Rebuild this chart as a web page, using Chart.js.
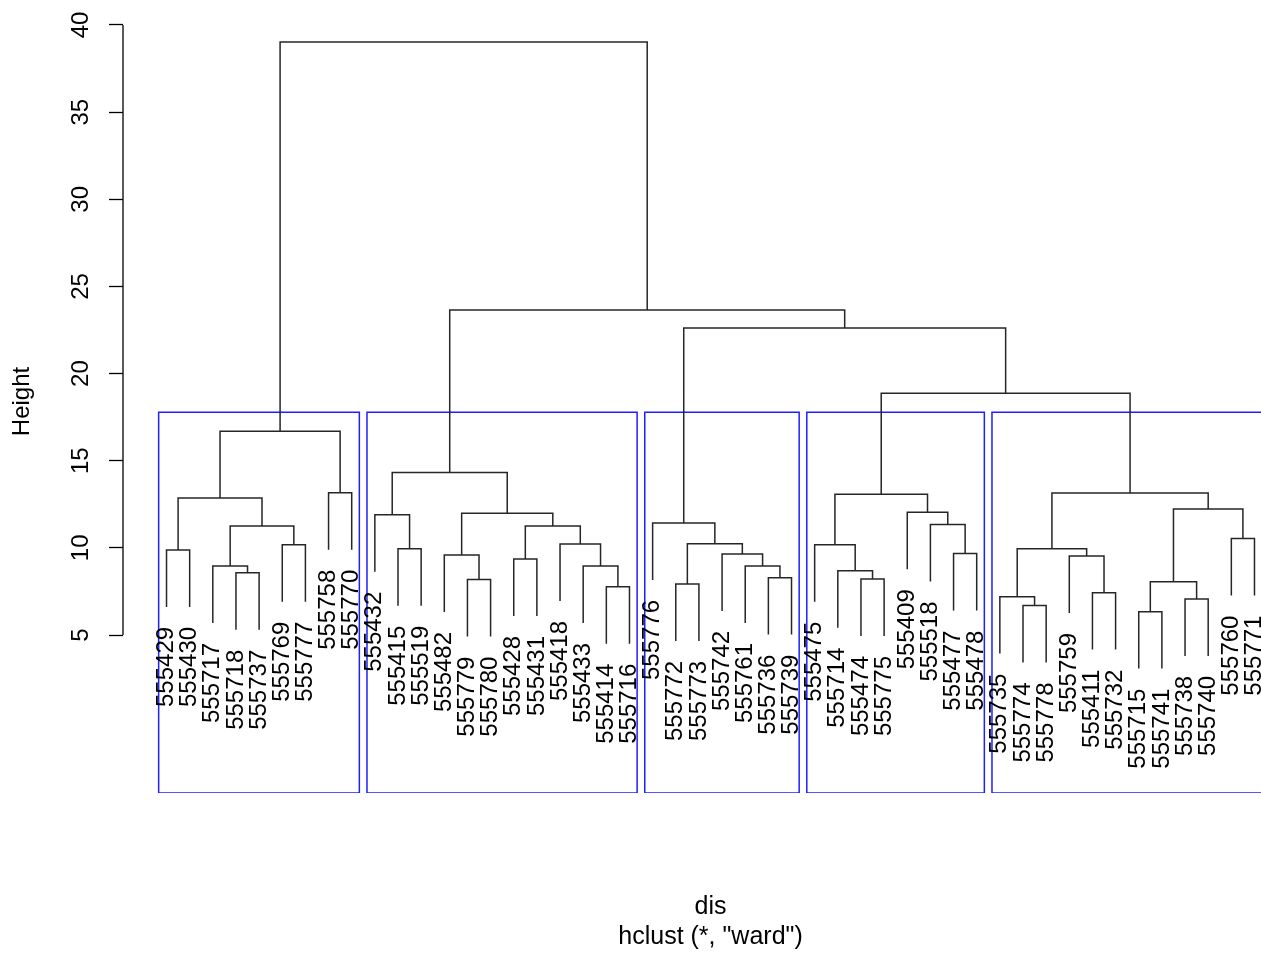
<!DOCTYPE html>
<html>
<head>
<meta charset="utf-8">
<script src="https://cdn.jsdelivr.net/npm/chart.js@4.4.0/dist/chart.umd.min.js"></script>
<style>
  html, body { margin: 0; padding: 0; background: #fff; overflow: hidden; }
  /* the R plot region runs past the right edge of the window */
  #wrap { width: 1298px; height: 954px; }
</style>
</head>
<body>
<div id="wrap"><canvas id="c"></canvas></div>
<script>
// leaves in plot order (left to right)
const leafLabels = [
  "555429", "555430", "555717", "555718", "555737", "555769", "555777", "555758", "555770",
  "555432", "555415", "555519", "555482", "555779", "555780", "555428", "555431", "555418",
  "555433", "555414", "555716",
  "555776", "555772", "555773", "555742", "555761", "555736", "555739",
  "555475", "555714", "555474", "555775", "555409", "555518", "555477", "555478",
  "555735", "555774", "555778", "555759", "555411", "555732", "555715", "555741",
  "555738", "555740", "555760", "555771"
];

// merge table like R's hclust: negative = leaf number (plot order), positive = earlier merge row
const mergeLeft = [-1, -4, -3, -6, 3, 1, -8, 6, -11, -10, -14, -13, -16, -20, -19, -18, 13, 12, 10,
  -23, -27, -26, -25, 20, -22, -31, -30, -29, -35, -34, -33, 28, -38, -37, -41, -40, 34,
  -43, -45, 38, -47, 40, 37, 32, 25, 19, 8];
const mergeRight = [-2, -5, 2, -7, 4, 5, -9, 7, -12, 9, -15, 11, -17, -21, 14, 15, 16, 17, 18,
  -24, -28, 21, 22, 23, 24, -32, 26, 27, -36, 29, 30, 31, -39, 33, -42, 35, 36,
  -44, -46, 39, -48, 41, 42, 43, 44, 45, 46];
const mergeHeights = [9.88, 8.57, 8.96, 10.18, 11.25, 12.86, 13.16, 16.69, 9.95, 11.90,
  8.18, 9.59, 9.36, 7.77, 8.96, 10.22, 11.25, 11.98, 14.33, 7.93,
  8.29, 8.96, 9.65, 10.24, 11.43, 8.21, 8.69, 10.18, 9.67, 11.34,
  12.04, 13.07, 6.69, 7.20, 7.43, 9.53, 9.95, 6.34, 7.07, 8.06,
  10.53, 12.23, 13.15, 18.87, 22.61, 23.65, 39.02];

const yTicks = [5, 10, 15, 20, 25, 30, 35, 40];
const clusterCount = 5;

const font = '"Liberation Sans", Arial, sans-serif';
const treeColor = "#262626";
const rectColor = "#1f1fff";

// leaves hang 0.1 of the height range below their merge
const hang = 0.1 * (Math.max(...mergeHeights) - Math.min(...mergeHeights));

const nodeX = [];
const leafBottom = [];
mergeLeft.forEach((l, j) => {
  const r = mergeRight[j];
  const xl = l < 0 ? -l : nodeX[l - 1];
  const xr = r < 0 ? -r : nodeX[r - 1];
  nodeX[j] = (xl + xr) / 2;
  if (l < 0) leafBottom[-l - 1] = mergeHeights[j] - hang;
  if (r < 0) leafBottom[-r - 1] = mergeHeights[j] - hang;
});

const yMin = -4.065;
const yMax = 40.86;

const datasets = [];
mergeLeft.forEach((l, j) => {
  const r = mergeRight[j];
  const h = mergeHeights[j];
  const xl = l < 0 ? -l : nodeX[l - 1];
  const xr = r < 0 ? -r : nodeX[r - 1];
  const hl = l < 0 ? h - hang : mergeHeights[l - 1];
  const hr = r < 0 ? h - hang : mergeHeights[r - 1];
  datasets.push({
    data: [{ x: xl, y: hl }, { x: xl, y: h }, { x: xr, y: h }, { x: xr, y: hr }],
    borderColor: treeColor,
    borderWidth: 1.5
  });
});

// rect.hclust(k = 5)
const sortedH = [...mergeHeights].sort((a, b) => b - a);
const cut = (sortedH[clusterCount - 2] + sortedH[clusterCount - 1]) / 2;
function leaves(c) {
  if (c < 0) return [-c];
  return leaves(mergeLeft[c - 1]).concat(leaves(mergeRight[c - 1]));
}
function clusters(c) {
  if (c > 0 && mergeHeights[c - 1] > cut) {
    return clusters(mergeLeft[c - 1]).concat(clusters(mergeRight[c - 1]));
  }
  return [c];
}
clusters(mergeHeights.length).forEach(c => {
  const lv = leaves(c);
  const x0 = Math.min(...lv) - 0.34;
  const x1 = Math.max(...lv) + 0.33;
  datasets.push({
    data: [{ x: x0, y: yMin }, { x: x0, y: cut }, { x: x1, y: cut }, { x: x1, y: yMin }, { x: x0, y: yMin }],
    borderColor: rectColor,
    borderWidth: 1.5
  });
});

const leafLabelPlugin = {
  id: "leafLabels",
  afterDatasetsDraw(chart) {
    const { ctx, scales: { x, y } } = chart;
    ctx.save();
    ctx.font = "24px " + font;
    ctx.fillStyle = "#000";
    ctx.textAlign = "right";
    ctx.textBaseline = "middle";
    leafLabels.forEach((lab, i) => {
      const px = x.getPixelForValue(i + 1);
      const py = y.getPixelForValue(leafBottom[i]) + 20;
      ctx.save();
      ctx.translate(px, py);
      ctx.rotate(-Math.PI / 2);
      ctx.fillText(lab, 0, 0);
      ctx.restore();
    });
    ctx.restore();
  }
};

// R draws the axis line only over the tick range
const axisLinePlugin = {
  id: "axisLine",
  afterDraw(chart) {
    const { ctx, scales: { y } } = chart;
    ctx.save();
    ctx.strokeStyle = "#000";
    ctx.lineWidth = 1.3;
    ctx.beginPath();
    ctx.moveTo(y.right, y.getPixelForValue(yTicks[0]));
    ctx.lineTo(y.right, y.getPixelForValue(yTicks[yTicks.length - 1]));
    ctx.stroke();
    ctx.restore();
  }
};

new Chart(document.getElementById("c"), {
  type: "scatter",
  data: { datasets },
  options: {
    responsive: true,
    maintainAspectRatio: false,
    animation: false,
    showLine: true,
    elements: { point: { radius: 0, hoverRadius: 0 }, line: { tension: 0 } },
    layout: { padding: { top: 10, left: 0, right: 0, bottom: 0 } },
    plugins: { legend: { display: false }, tooltip: { enabled: false } },
    scales: {
      x: {
        type: "linear",
        min: -0.88,
        max: 49.88,
        afterFit: s => { s.height = 161; s.paddingLeft = 0; s.paddingRight = 0; },
        grid: { display: false },
        border: { display: false },
        ticks: { display: false },
        title: {
          display: true,
          text: ["dis", 'hclust (*, "ward")'],
          color: "#000",
          font: { family: font, size: 25, lineHeight: 1.2 },
          padding: { top: 0, bottom: 2 }
        }
      },
      y: {
        type: "linear",
        min: yMin,
        max: yMax,
        afterBuildTicks: s => { s.ticks = yTicks.map(v => ({ value: v })); },
        afterFit: s => { s.width = 123; s.paddingTop = 0; s.paddingBottom = 0; },
        border: { display: false },
        grid: { drawOnChartArea: false, drawTicks: true, tickLength: 14, color: "#000", tickWidth: 1.3 },
        ticks: {
          autoSkip: false,
          minRotation: 90,
          maxRotation: 90,
          crossAlign: "center",
          padding: 14,
          color: "#000",
          font: { family: font, size: 24 }
        },
        title: {
          display: true,
          text: "Height",
          color: "#000",
          font: { family: font, size: 24 },
          padding: { top: 8, bottom: 0 }
        }
      }
    }
  },
  plugins: [leafLabelPlugin, axisLinePlugin]
});
</script>
</body>
</html>
